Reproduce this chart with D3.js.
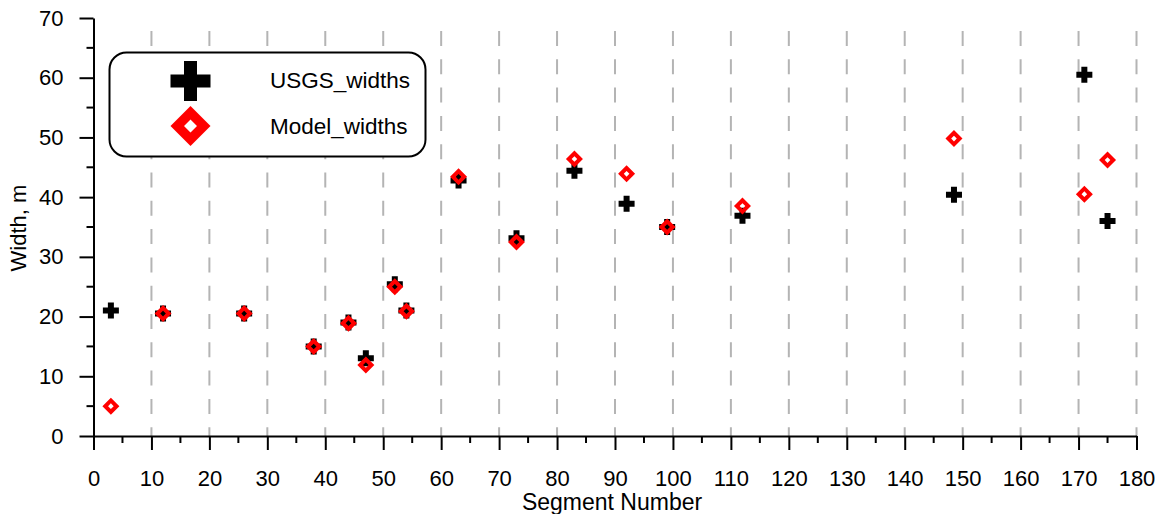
<!DOCTYPE html>
<html><head><meta charset="utf-8">
<script src="https://cdn.jsdelivr.net/npm/d3@7"></script>
<style>body{margin:0;background:#fff}svg{display:block;font-family:"Liberation Sans",Arial,sans-serif}</style>
</head><body><svg id="c" width="1166" height="514"></svg>
<script>
const segments = [3, 12, 26, 38, 44, 47, 52, 54, 63, 73, 83, 92, 99, 112, 148.5, 171, 175];
const usgsWidths = [21, 20.5, 20.5, 15, 19, 13, 25.4, 21, 42.8, 33.1, 44.4, 38.9, 35, 36.9, 40.4, 60.5, 36];
const modelWidths = [5, 20.5, 20.5, 15, 18.9, 11.9, 25, 20.9, 43.4, 32.5, 46.4, 43.9, 35, 38.5, 49.8, 40.5, 46.2];
const xTicks = d3.range(0, 181, 10);
const xMinor = d3.range(5, 180, 10);
const yTicks = d3.range(0, 71, 10);
const yMinor = d3.range(5, 70, 10);
const seriesNames = ["USGS_widths", "Model_widths"];

const svg = d3.select("#c");
const x = d3.scaleLinear().domain([0, 180]).range([93.5, 1136.5]);
const y = d3.scaleLinear().domain([0, 70]).range([436, 18]);

// grid
svg.append("g").selectAll("line").data(xTicks.filter(d => d > 0)).join("line")
  .attr("x1", d => x(d)).attr("x2", d => x(d))
  .attr("y1", 31).attr("y2", y(0))
  .attr("stroke", "#b4b4b4").attr("stroke-width", 2)
  .attr("stroke-dasharray", "15,13.3");

// x axis
const gx = svg.append("g").attr("transform", `translate(0,${y(0)})`)
  .call(d3.axisBottom(x).tickValues(xTicks).tickSize(14).tickSizeOuter(0).tickPadding(20));
gx.selectAll("line").attr("stroke", "#000").attr("stroke-width", 2);
gx.select(".domain").attr("stroke", "#000").attr("stroke-width", 2);
gx.selectAll("text").attr("font-size", 22).attr("fill", "#000").attr("font-family", "Liberation Sans, Arial");
gx.selectAll(".minor").data(xMinor).join("line").attr("class", "minor")
  .attr("x1", d => x(d)).attr("x2", d => x(d)).attr("y1", 0).attr("y2", 7)
  .attr("stroke", "#000").attr("stroke-width", 2);

// y axis
const gy = svg.append("g").attr("transform", `translate(${x(0)},0)`)
  .call(d3.axisLeft(y).tickValues(yTicks).tickSize(14).tickSizeOuter(0).tickPadding(16));
gy.selectAll("line").attr("stroke", "#000").attr("stroke-width", 2);
gy.select(".domain").attr("stroke", "#000").attr("stroke-width", 2);
gy.selectAll("text").attr("font-size", 22).attr("fill", "#000").attr("font-family", "Liberation Sans, Arial");
gy.selectAll(".minor").data(yMinor).join("line").attr("class", "minor")
  .attr("x1", -7).attr("x2", 0).attr("y1", d => y(d)).attr("y2", d => y(d))
  .attr("stroke", "#000").attr("stroke-width", 2);

// titles
svg.append("text").attr("x", 612).attr("y", 509.5).attr("text-anchor", "middle")
  .attr("font-size", 23).text("Segment Number");
svg.append("text").attr("transform", `translate(26,${228}) rotate(-90)`).attr("text-anchor", "middle")
  .attr("font-size", 22).text("Width, m");

// marker shapes
function plusPath(s, t) {
  const a = s / 2, b = t / 2;
  return `M${-b},${-a}H${b}V${-b}H${a}V${b}H${b}V${a}H${-b}V${b}H${-a}V${-b}H${-b}Z`;
}
function diamondPath(r, ri) {
  return `M0,${-r}L${r},0L0,${r}L${-r},0Z M0,${-ri}L${-ri},0L0,${ri}L${ri},0Z`;
}

const pts = segments.map((s, i) => ({ s, u: usgsWidths[i], m: modelWidths[i] }));
svg.append("g").selectAll("path").data(pts).join("path")
  .attr("transform", d => `translate(${x(d.s)},${y(d.u)})`)
  .attr("d", plusPath(16, 6)).attr("fill", "#000");
svg.append("g").selectAll("path").data(pts).join("path")
  .attr("transform", d => `translate(${x(d.s)},${y(d.m)})`)
  .attr("d", diamondPath(8.5, 2.8)).attr("fill", "#ff0000").attr("fill-rule", "evenodd");

// legend
const lg = svg.append("g");
lg.append("rect").attr("x", 109.5).attr("y", 52.5).attr("width", 316).attr("height", 104)
  .attr("rx", 17).attr("ry", 17).attr("fill", "#fff").attr("stroke", "#000").attr("stroke-width", 2);
lg.append("path").attr("transform", "translate(190.5,81)").attr("d", plusPath(40, 13)).attr("fill", "#000");
lg.append("path").attr("transform", "translate(190.5,126)").attr("d", diamondPath(20, 6.5))
  .attr("fill", "#ff0000").attr("fill-rule", "evenodd");
lg.selectAll("text.l").data(seriesNames).join("text").attr("class", "l")
  .attr("x", 270).attr("y", (d, i) => 88 + i * 46).attr("font-size", 22.5).text(d => d);
</script></body></html>
